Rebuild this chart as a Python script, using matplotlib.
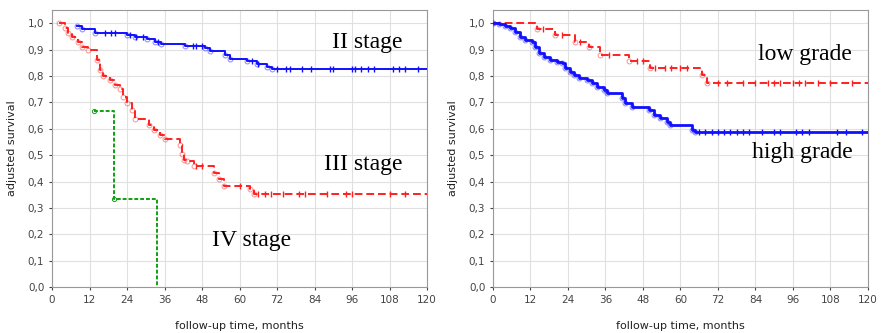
import numpy as np
import matplotlib.pyplot as plt

# Kaplan-Meier style curves (time in months, survival)
stage2_t = [8.1, 9.5, 13.8, 23.9, 26.5, 30.3, 33.0, 35.0, 42.6, 49.0, 50.6, 55.4, 57.0, 62.3, 65.6, 68.8, 70.4, 120]
stage2_s = [0.99, 0.977, 0.963, 0.955, 0.948, 0.940, 0.930, 0.923, 0.915, 0.905, 0.893, 0.880, 0.865, 0.855, 0.845, 0.835, 0.828, 0.828]
stage2_cens = [17, 19, 20, 25, 27, 29, 34, 45, 46, 48, 64, 66, 72, 75, 76, 80, 83, 89, 90, 96, 97, 99, 101, 103, 109, 111, 113, 117]

stage3_t = [2.3, 4.2, 5.2, 6.3, 8.4, 9.5, 11.6, 14.3, 15.4, 16.4, 18.6, 20.2, 21.8, 22.8, 23.9, 25.5, 26.6,
            30.9, 32.5, 34.6, 36.2, 41.0, 41.5, 42.1, 43.1, 45.3, 51.7, 53.3, 54.9, 63.4, 64.5, 120]
stage3_s = [1.0, 0.98, 0.962, 0.946, 0.927, 0.91, 0.90, 0.86, 0.823, 0.80, 0.785, 0.766, 0.75, 0.72, 0.696, 0.67, 0.637,
            0.614, 0.595, 0.576, 0.56, 0.538, 0.506, 0.48, 0.477, 0.458, 0.433, 0.408, 0.382, 0.37, 0.353, 0.353]
stage3_cens = [46, 48, 60, 66, 68, 70, 74, 79, 81, 88, 94, 96, 108, 113]

stage4_t = [13.5, 19.9, 33.5, 33.5]
stage4_s = [0.667, 0.333, 0.0, 0.0]

low_t = [0, 14.1, 19.9, 26.3, 30.6, 34.1, 43.4, 50.3, 66.9, 68.5, 120]
low_s = [1.0, 0.977, 0.955, 0.93, 0.908, 0.88, 0.855, 0.832, 0.805, 0.773, 0.773]
low_cens = [16, 22, 28, 37, 46, 48, 52, 55, 57, 60, 62, 72, 75, 80, 84, 88, 90, 92, 96, 98, 100, 104, 108, 115]

high_t = [0, 1.8, 3.9, 5.5, 7.1, 8.7, 10.3, 12.5, 13.5, 14.6, 16.2, 18.3, 20.5, 22.1, 23.1, 24.7, 25.8, 27.4,
          30.1, 31.7, 33.3, 35.4, 36.5, 41.3, 42.3, 44.5, 49.8, 51.4, 53.5, 55.7, 56.7, 63.7, 64.7, 120]
high_s = [1.0, 0.997, 0.99, 0.981, 0.968, 0.949, 0.937, 0.93, 0.911, 0.886, 0.873, 0.861, 0.854, 0.848, 0.829, 0.816, 0.804, 0.791,
          0.785, 0.772, 0.759, 0.747, 0.734, 0.715, 0.696, 0.684, 0.671, 0.652, 0.639, 0.627, 0.614, 0.595, 0.589, 0.589]
high_cens = [66, 68, 70, 72, 74, 76, 78, 80, 82, 86, 90, 92, 97, 99, 101, 110, 113, 118]

xticks = list(range(0, 121, 12))
yticks = [i / 10 for i in range(11)]
ytick_labels = [f"{v:.1f}".replace('.', ',') for v in yticks]

RED = '#ff2020'
BLUE = '#1010ff'
GREEN = '#10a010'


def surv_at(t, times, surv):
    # value of a step curve at time t
    idx = np.searchsorted(times, t, side='right') - 1
    return np.array(surv)[idx]


def km(ax, times, surv, cens, color, ls, lw):
    ax.step(times, surv, where='post', color=color, ls=ls, lw=lw, zorder=3)
    ax.plot(times[:-1], surv[:-1], 'o', ms=3.5, mfc='none', mec=color, mew=0.7, alpha=0.5, zorder=3)
    if cens:
        ax.plot(cens, surv_at(cens, times, surv), '|', ms=5, mew=1, color=color, zorder=4)


def style(ax):
    ax.set_xlim(0, 120)
    ax.set_ylim(0, 1.05)
    ax.set_xticks(xticks)
    ax.set_yticks(yticks)
    ax.set_yticklabels(ytick_labels)
    ax.grid(True, color='#e0e0e0', lw=0.8)
    ax.set_axisbelow(True)
    ax.tick_params(labelsize=7.5, colors='#444444', length=2)
    for sp in ax.spines.values():
        sp.set_color('#999999')
    ax.set_xlabel('follow-up time, months', fontsize=8, color='#222222', labelpad=12)
    ax.set_ylabel('adjusted survival', fontsize=8, color='#222222', labelpad=8)


fig = plt.figure(figsize=(8.83, 3.33), dpi=100)
ax1 = fig.add_axes([0.0589, 0.138, 0.4247, 0.832])
ax2 = fig.add_axes([0.5583, 0.138, 0.4247, 0.832])

km(ax1, stage2_t, stage2_s, stage2_cens, BLUE, '-', 1.4)
km(ax1, stage3_t, stage3_s, stage3_cens, RED, (0, (4, 2)), 1.4)
ax1.step(stage4_t, stage4_s, where='post', color=GREEN, ls=(0, (2, 1)), lw=1.4, zorder=3)
ax1.plot(stage4_t[:2], stage4_s[:2], 'o', ms=3, mfc='none', mec=GREEN, mew=0.7, zorder=3)
style(ax1)

serif = 'Liberation Serif'
ax1.text(112, 0.925, 'II stage', family=serif, fontsize=17, ha='right', va='center')
ax1.text(112, 0.465, 'III stage', family=serif, fontsize=17, ha='right', va='center')
ax1.text(76.5, 0.175, 'IV stage', family=serif, fontsize=17, ha='right', va='center')

km(ax2, low_t, low_s, low_cens, RED, (0, (4, 2)), 1.4)
km(ax2, high_t, high_s, high_cens, BLUE, '-', 2.0)
style(ax2)
ax2.text(115, 0.88, 'low grade', family=serif, fontsize=17, ha='right', va='center')
ax2.text(115, 0.51, 'high grade', family=serif, fontsize=17, ha='right', va='center')

fig.savefig('out.png', dpi=100)
